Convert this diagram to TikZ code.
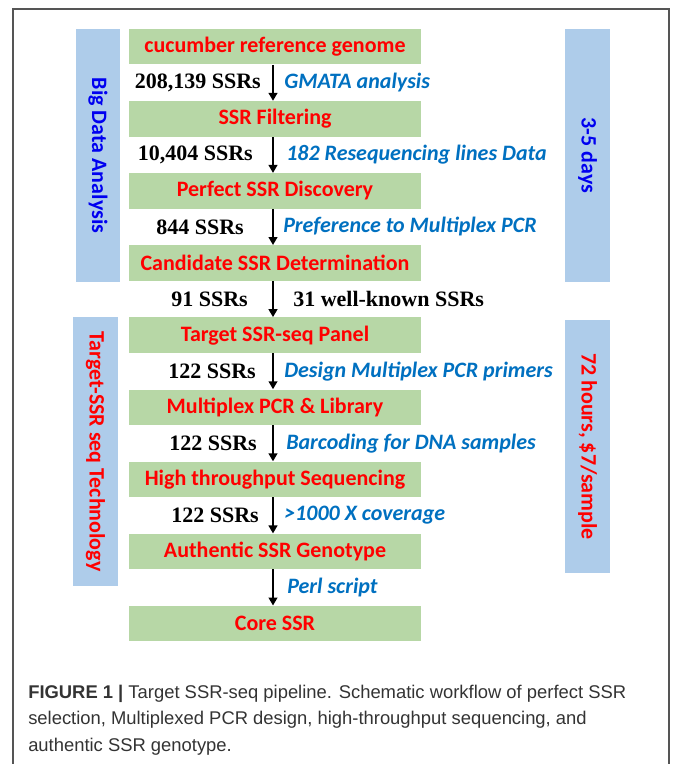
\documentclass[tikz,border=0pt]{standalone}
\usepackage{fontspec}
\setmainfont{Carlito}
\newfontfamily\tnr{Liberation Serif}
\newfontfamily\capfont{Liberation Sans}
\usetikzlibrary{arrows.meta}
\definecolor{boxgreen}{RGB}{183,215,166}
\definecolor{barblue}{RGB}{174,204,234}
\definecolor{lblblue}{RGB}{0,112,192}
\definecolor{sideblue}{RGB}{0,0,240}
\definecolor{framegray}{RGB}{85,85,85}
\definecolor{capgray}{RGB}{51,51,51}
\begin{document}
\begin{tikzpicture}[x=0.75pt,y=-0.75pt,
 box/.style={fill=boxgreen, minimum width=219pt, minimum height=26.6pt, inner sep=0pt, text=red, font=\bfseries\fontsize{16.5}{18}\selectfont},
 bar/.style={fill=barblue, rotate=-90, inner sep=0pt, minimum height=33.5pt, font=\bfseries\fontsize{16.5}{18}\selectfont},
 num/.style={anchor=east, inner sep=0pt, font=\tnr\bfseries\fontsize{16.5}{18}\selectfont},
 how/.style={anchor=west, inner sep=0pt, text=lblblue, font=\bfseries\itshape\fontsize{16.5}{18}\selectfont},
 arr/.style={-{Triangle[length=6pt,width=6.5pt]}, line width=1.6pt},
 captext/.style={anchor=base west, inner sep=0pt, text=capgray, font=\capfont\fontsize{13.8}{16}\selectfont}]
\useasboundingbox (0,0) rectangle (672,764);
% frame
\draw[framegray, line width=1.1pt] (13,764) -- (13,9) -- (669,9) -- (669,764);
% side bars
\node[bar, minimum width=189.75pt, text=sideblue] (barBD) at (98,155.5) {Big Data Analysis};
\node[bar, minimum width=189.75pt, text=sideblue] (barTD) at (587.5,155.5) {3-5 days};
\node[bar, minimum width=201.75pt, text=red] (barTS) at (95.5,451.5) {Target-SSR seq Technology};
\node[bar, minimum width=189.75pt, text=red] (barTH) at (587.5,446.5) {72 hours, \$7/sample};
% boxes
\node[box] (b0) at (275,46.75) {cucumber reference genome};
\node[box] (b1) at (275,118.85) {SSR Filtering};
\node[box] (b2) at (275,190.95) {Perfect SSR Discovery};
\node[box] (b3) at (275,263.05) {Candidate SSR Determination};
\node[box] (b4) at (275,335.15) {Target SSR-seq Panel};
\node[box] (b5) at (275,407.25) {Multiplex PCR \& Library};
\node[box] (b6) at (275,479.35) {High throughput Sequencing};
\node[box] (b7) at (275,551.45) {Authentic SSR Genotype};
\node[box] (b8) at (275,623.55) {Core SSR};
% arrows
\foreach \a/\b in {b0/b1,b1/b2,b2/b3,b3/b4,b4/b5,b5/b6,b6/b7,b7/b8}
  \draw[arr] ([xshift=-1.5pt]\a.south) -- ([xshift=-1.5pt]\b.north);
% counts
\node[num] (n0) at (261,82.8) {208,139 SSRs};
\node[num] (n1) at (253,154.9) {10,404 SSRs};
\node[num] (n2) at (244,227.0) {844 SSRs};
\node[num] (n3) at (248,299.1) {91 SSRs};
\node[num] (n4) at (256,371.2) {122 SSRs};
\node[num] (n5) at (257,443.3) {122 SSRs};
\node[num] (n6) at (259,515.4) {122 SSRs};
% methods
\node[how] (m0) at (284,82.8) {GMATA analysis};
\node[how] (m1) at (286,154.9) {182 Resequencing lines Data};
\node[how] (m2) at (283,227.0) {Preference to Multiplex PCR};
\node[num, anchor=west] (m3) at (293,299.1) {31 well-known SSRs};
\node[how] (m4) at (284,371.2) {Design Multiplex PCR primers};
\node[how] (m5) at (286,443.3) {Barcoding for DNA samples};
\node[how] (m6) at (284,515.4) {>1000 X coverage};
\node[how] (m7) at (287,587.5) {Perl script};
% caption
\node[captext] (cap1) at (28,698) {\textbf{FIGURE 1 |} Target SSR-seq pipeline. Schematic workflow of perfect SSR};
\node[captext] (cap2) at (28,724.5) {selection, Multiplexed PCR design, high-throughput sequencing, and};
\node[captext] (cap3) at (28,751) {authentic SSR genotype.};
\end{tikzpicture}
\end{document}
